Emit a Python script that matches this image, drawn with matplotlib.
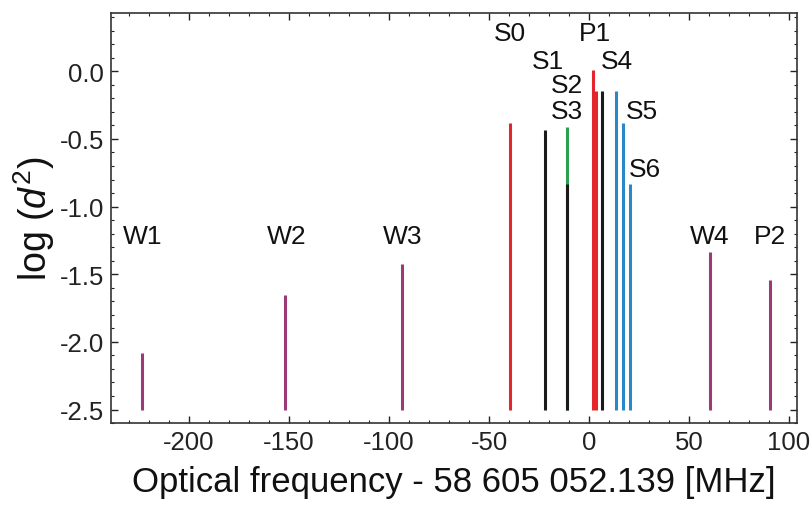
import matplotlib
matplotlib.use("Agg")
import matplotlib.pyplot as plt
from matplotlib.ticker import MultipleLocator

plt.rcParams.update({
    "font.family": ["Liberation Sans", "DejaVu Sans"],
    "mathtext.fontset": "custom",
    "mathtext.it": "Liberation Sans:italic",
    "mathtext.rm": "Liberation Sans",
})

# Line positions (MHz offset) and log(d^2) heights, all drawn from baseline -2.5
base = -2.5
freqs = [-223.7, -152.0, -93.7, -39.5, -22.0, -11.2, -11.2, 1.9, 3.3, 6.7, 13.5, 16.8, 20.5, 60.5, 90.5]
heights = [-2.08, -1.656, -1.426, -0.385, -0.436, -0.41, -0.836, 0.01, -0.146, -0.146, -0.146, -0.385, -0.836, -1.337, -1.544]
colors = ["#9c3a78", "#9c3a78", "#9c3a78", "#e3262b", "#1a1a1a", "#2e9e4f", "#1a1a1a",
          "#e3262b", "#e3262b", "#1a1a1a", "#2a88c8", "#2a88c8", "#2a88c8", "#9c3a78", "#9c3a78"]

# Peak labels
label_names = ["S0", "P1", "S1", "S4", "S2", "S3", "S5", "S6", "W1", "W2", "W3", "W4", "P2"]
label_x = [-39.5, 3.0, -20.5, 14.0, -11.0, -11.0, 26.5, 28.0, -223.0, -151.0, -93.0, 60.5, 90.5]
label_y = [0.285, 0.285, 0.078, 0.078, -0.10, -0.293, -0.293, -0.722, -1.219, -1.219, -1.219, -1.219, -1.219]

fig = plt.figure(figsize=(8.1, 5.06), dpi=100)
ax = fig.add_axes([0.137, 0.162, 0.847, 0.81])

ax.vlines(freqs, base, heights, colors=colors, linewidth=2.2)

for name, x, y in zip(label_names, label_x, label_y):
    ax.text(x, y, name, fontsize=19, ha="center", va="center", color="#111111")

ax.set_xlim(-239, 104)
ax.set_ylim(-2.6, 0.43)
ax.set_xticks([-200, -150, -100, -50, 0, 50, 100])
ax.set_yticks([-2.5, -2.0, -1.5, -1.0, -0.5, 0.0])
ax.set_yticklabels(["-2.5", "-2.0", "-1.5", "-1.0", "-0.5", "0.0"])
ax.set_xticklabels(["-200", "-150", "-100", "-50", "0", "50", "100"])
ax.xaxis.set_minor_locator(MultipleLocator(10))
ax.yaxis.set_minor_locator(MultipleLocator(0.1))
ax.tick_params(which="both", direction="in", top=True, right=True, labelsize=18.5, colors="#222222")
ax.tick_params(which="major", length=5, width=1, pad=5)
ax.tick_params(which="minor", length=2.5, width=0.8)
for part in ["bottom", "left", "right", "top"]:
    ax.spines[part].set_linewidth(1.2)
    ax.spines[part].set_color("#333333")

ax.set_xlabel("Optical frequency - 58 605 052.139 [MHz]", fontsize=25, labelpad=8, color="#111111")
ax.set_ylabel("log ($d^2$)", fontsize=27, labelpad=2, color="#111111")

fig.savefig("out.png", dpi=100)
